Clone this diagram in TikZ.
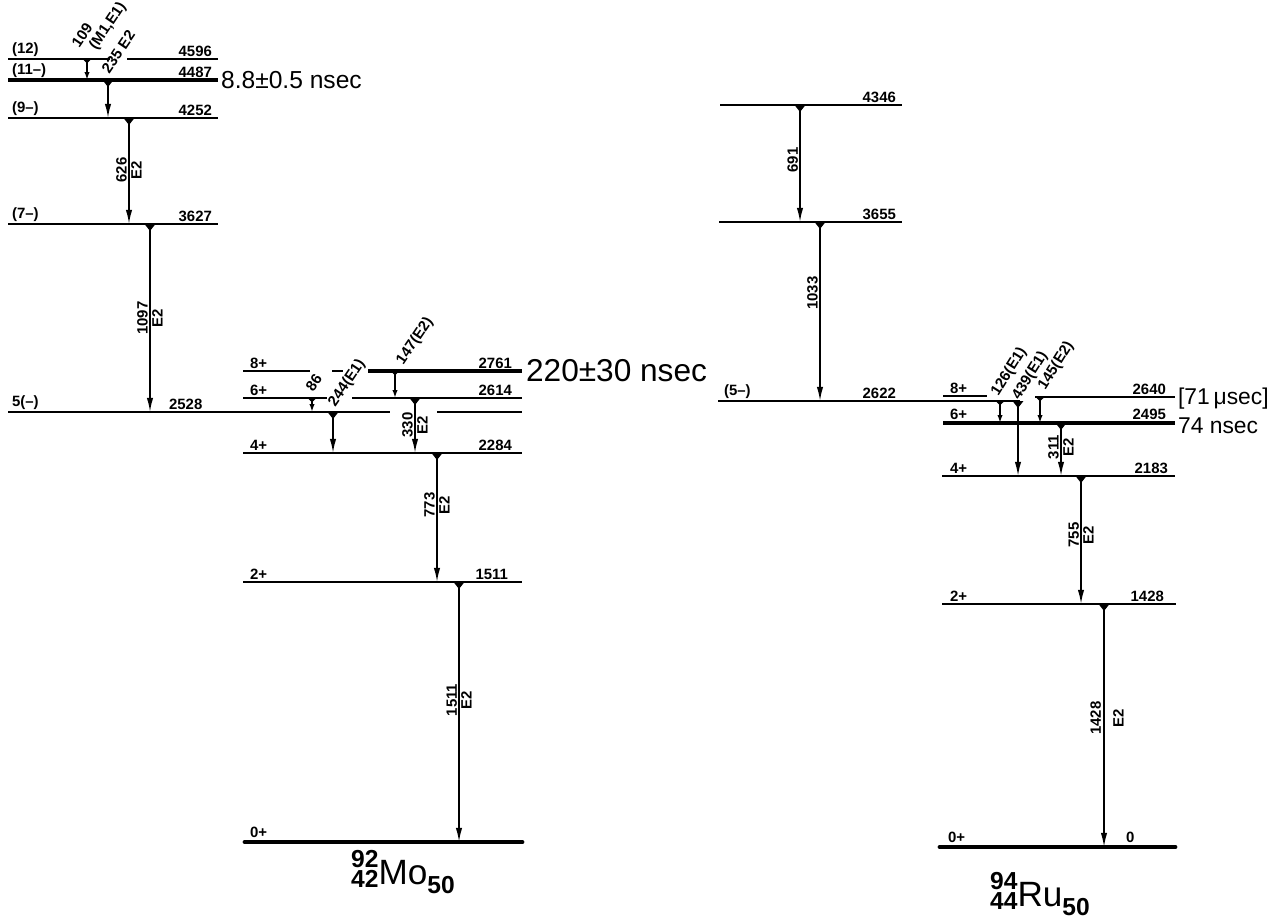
\documentclass[tikz,border=0pt]{standalone}
\usepackage{fontspec}
\setmainfont{Liberation Sans}
\usetikzlibrary{arrows.meta}

\newcommand\isotope[4]{\fontsize{20}{20}\selectfont
  \makebox[0pt][l]{\raisebox{0.95ex}{\bfseries\fontsize{14}{14}\selectfont #1}}%
  \raisebox{-0.15ex}{\bfseries\fontsize{14}{14}\selectfont #2}#3%
  \raisebox{-0.5ex}{\bfseries\fontsize{14}{14}\selectfont #4}}

\begin{document}
\begin{tikzpicture}[
  x=0.02cm, y=-0.02cm,
  lvl/.style={line width=1.4pt},
  heavy/.style={line width=2pt},
  ground/.style={line width=2.8pt, line cap=round},
  gam/.style={line width=0.9pt, {Triangle[reversed,width=6pt,length=4pt]}-{Latex[width=3.6pt,length=8pt]}},
  gamshort/.style={line width=0.9pt, {Triangle[reversed,width=5pt,length=2.5pt]}-{Latex[width=3pt,length=4.5pt]}},
  lbl/.style={font=\bfseries\fontsize{8.5}{10}\selectfont, inner sep=1pt},
  diag/.style={lbl, rotate=56, anchor=west},
  spin/.style={lbl, anchor=south west},
  ener/.style={lbl, anchor=south east},
  life/.style={anchor=west, inner sep=1pt}
]
\useasboundingbox (0,0) rectangle (1274,923);

% 92Mo levels
\foreach \xa/\xb/\y in {8/110/59, 127/218/59, 8/218/118, 8/218/224, 8/390/412, 437/522/412,
    243/310/371, 332/343/371, 243/327/398, 352/522/398, 243/522/453, 243/522/582}
  \draw[lvl] (\xa,\y) -- (\xb,\y);
\draw[heavy] (8,80) -- (218,80);
\draw[heavy] (368,371) -- (522,371);
\draw[ground] (245,842) -- (522,842);

% 94Ru levels
\foreach \xa/\xb/\y in {720/902/105, 719/902/222, 718/1020/401, 943/987/396, 1035/1175/397,
    942/1175/476, 942/1176/604}
  \draw[lvl] (\xa,\y) -- (\xb,\y);
\draw[heavy] (943,423) -- (1175,423);
\draw[ground] (940,847) -- (1175,847);

% gamma transitions
\foreach \n/\x/\ya/\yb in {235/108/80/118, 626/129/118/224, 1097/150/224/412, 244/333/412/453,
    330/415/398/453, 773/437/453/582, 1511/459/582/842, 691/800/105/222, 1033/820/222/401,
    439/1018/401/476, 311/1061/423/476, 755/1081/476/604, 1428/1104/604/847}
{
  \coordinate (g\n-a) at (\x,\ya);
  \coordinate (g\n-b) at (\x,\yb);
  \draw[gam] (g\n-a) -- (g\n-b);
}
\foreach \n/\x/\ya/\yb in {109/87/59/80, 86/312/398/412, 147/395/371/398, 126/1000/401/423, 145/1040/397/423}
{
  \coordinate (g\n-a) at (\x,\ya);
  \coordinate (g\n-b) at (\x,\yb);
  \draw[gamshort] (g\n-a) -- (g\n-b);
}

% energies along the lines
\foreach \n/\x/\y in {626/129/170, 1097/150/318, 330/415/425, 773/437/505, 1511/459/700,
    691/800/160, 1033/820/293, 311/1061/447, 755/1081/535, 1428/1103/718}
  \node[lbl, rotate=90, anchor=south] (e\n) at (\x,\y) {\n};
\foreach \n/\x/\y in {626/129/170, 1097/150/318, 330/415/425, 773/437/505, 1511/459/700,
    311/1061/447, 755/1081/535}
  \node[lbl, rotate=90, anchor=north] (m\n) at (\x,\y) {E2};
\node[lbl, rotate=90, anchor=north] (m1428) at (1111,718) {E2};

% slanted labels
\node[diag] (d109) at (74,47) {109};
\node[diag] (d109m) at (92,50) {(M1,E1)};
\node[diag] (d235) at (104,73) {235 E2};
\node[diag] (d86) at (308,391) {86};
\node[diag] (d244) at (331,407) {244(E1)};
\node[diag] (d147) at (399,365) {147(E2)};
\node[diag, rotate=2] (d126) at (994,396) {126(E1)};
\node[diag, rotate=2] (d439) at (1015,400) {439(E1)};
\node[diag, rotate=2] (d145) at (1041,390) {145(E2)};

% spins
\node[spin] (s12) at (10,59) {(12)};
\node[spin] (s11) at (10,80) {(11--)};
\node[spin] (s9) at (10,118) {(9--)};
\node[spin] (s7) at (10,224) {(7--)};
\node[spin] (s5) at (10,412) {5(--)};
\node[spin] (s8) at (248,371) {8+};
\node[spin] (s6) at (248,398) {6+};
\node[spin] (s4) at (248,453) {4+};
\node[spin] (s2) at (248,582) {2+};
\node[spin] (s0) at (248,840) {0+};
\node[spin] (r5) at (722,401) {(5--)};
\node[spin] (r8) at (948,396) {8+};
\node[spin] (r6) at (948,422) {6+};
\node[spin] (r4) at (948,476) {4+};
\node[spin] (r2) at (948,604) {2+};
\node[spin] (r0) at (946,845) {0+};

% level energies
\node[ener] (l4596) at (214,59) {4596};
\node[ener] (l4487) at (214,80) {4487};
\node[ener] (l4252) at (214,118) {4252};
\node[ener] (l3627) at (214,224) {3627};
\node[spin] (l2528) at (167,412) {2528};
\node[ener] (l2761) at (514,371) {2761};
\node[ener] (l2614) at (514,398) {2614};
\node[ener] (l2284) at (514,453) {2284};
\node[ener] (l1511) at (510,582) {1511};
\node[ener] (l4346) at (898,105) {4346};
\node[ener] (l3655) at (898,222) {3655};
\node[ener] (l2622) at (898,401) {2622};
\node[ener] (l2640) at (1168,397) {2640};
\node[ener] (l2495) at (1168,422) {2495};
\node[ener] (l2183) at (1170,476) {2183};
\node[ener] (l1428) at (1166,604) {1428};
\node[spin] (l0) at (1124,845) {0};

% lifetimes
\node[life, font=\fontsize{14}{16}\selectfont] (t1) at (219,80) {8.8±0.5 nsec};
\node[life, font=\fontsize{18}{20}\selectfont] (t2) at (524,371) {220±30 nsec};
\node[life, font=\fontsize{13}{15}\selectfont] (t3) at (1176,399) {[71\,μsec]};
\node[life, font=\fontsize{13}{15}\selectfont] (t4) at (1176,426) {74 nsec};

% nuclei
\node (mo) at (403,872) {\isotope{92}{42}{Mo}{50}};
\node (ru) at (1040,894) {\isotope{94}{44}{Ru}{50}};
\end{tikzpicture}
\end{document}
